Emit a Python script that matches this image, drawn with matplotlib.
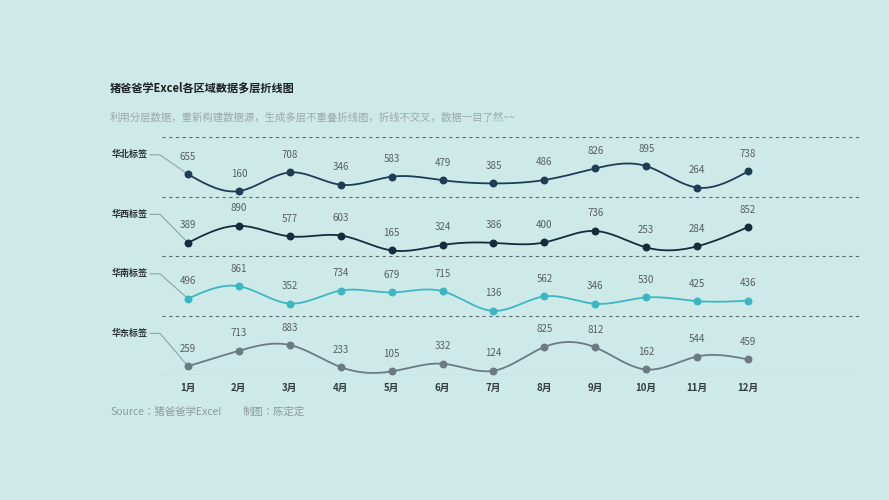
import numpy as np
import matplotlib.pyplot as plt

plt.rcParams['font.family'] = 'sans-serif'
plt.rcParams['font.sans-serif'] = ['Noto Sans CJK SC', 'Noto Sans CJK JP', 'DejaVu Sans']

months = ['1月', '2月', '3月', '4月', '5月', '6月', '7月', '8月', '9月', '10月', '11月', '12月']
regions = ['华北标签', '华西标签', '华南标签', '华东标签']
north = [655, 160, 708, 346, 583, 479, 385, 486, 826, 895, 264, 738]
west = [389, 890, 577, 603, 165, 324, 386, 400, 736, 253, 284, 852]
south = [496, 861, 352, 734, 679, 715, 136, 562, 346, 530, 425, 436]
east = [259, 713, 883, 233, 105, 332, 124, 825, 812, 162, 544, 459]
series = [north, west, south, east]
colors = ['#1d3d55', '#132d3d', '#3bb7c3', '#6a7b82']

bg = '#cdeae8'
scale = 0.000571
px = 1 / 50.9  # one pixel in month units


def spline(x, y, n=400):
    # natural cubic spline through the points
    x = np.asarray(x, float); y = np.asarray(y, float)
    k = len(x); h = np.diff(x)
    A = np.zeros((k, k)); b = np.zeros(k)
    A[0, 0] = A[-1, -1] = 1
    for i in range(1, k - 1):
        A[i, i - 1] = h[i - 1]; A[i, i] = 2 * (h[i - 1] + h[i]); A[i, i + 1] = h[i]
        b[i] = 3 * ((y[i + 1] - y[i]) / h[i] - (y[i] - y[i - 1]) / h[i - 1])
    c = np.linalg.solve(A, b)
    xs = np.linspace(x[0], x[-1], n)
    idx = np.clip(np.searchsorted(x, xs) - 1, 0, k - 2)
    dx = xs - x[idx]
    bb = (y[idx + 1] - y[idx]) / h[idx] - h[idx] * (2 * c[idx] + c[idx + 1]) / 3
    d = (c[idx + 1] - c[idx]) / (3 * h[idx])
    return xs, y[idx] + bb * dx + c[idx] * dx ** 2 + d * dx ** 3


fig = plt.figure(figsize=(8.89, 5), dpi=100, facecolor=bg)
ax = fig.add_axes([162 / 889, 1 - 375 / 500, (860 - 162) / 889, (375 - 137) / 500])
ax.set_facecolor(bg)
ax.set_xlim(1 - 26 * px, 12 + 112 * px)
ax.set_ylim(0, 4)
for s in ax.spines.values():
    s.set_visible(False)
ax.set_xticks([])
ax.set_yticks([])

x = np.arange(1, 13)
for yl in [1, 2, 3, 4]:
    ax.axhline(yl, color='#5a6e70', lw=0.8, ls=(0, (3, 3)))
ax.axhline(0, color='#b8d6d4', lw=1)

for i, (name, vals, col) in enumerate(zip(regions, series, colors)):
    base = 3 - i
    yv = base + np.array(vals) * scale
    xs, ys = spline(x, yv)
    ax.plot(xs, ys, color=col, lw=1.3, zorder=3)
    ax.scatter(x, yv, s=22, color=col, zorder=4)
    for xi, yi, v in zip(x, yv, vals):
        ax.annotate(str(v), (xi, yi), xytext=(0, 9), textcoords='offset points',
                    ha='center', va='bottom', fontsize=7, color='#555f60')
    ly = base + 0.7
    ax.plot([1 - 38 * px, 1 - 28 * px, 1], [ly, ly, yv[0]], color='#8a9a9c', lw=0.7,
            clip_on=False, zorder=2)
    ax.text(1 - 40 * px, ly, name, ha='right', va='center', fontsize=6.5,
            fontweight='bold', color='#2b3335')

for xi, m in zip(x, months):
    ax.text(xi, -0.22, m, ha='center', va='center', fontsize=7, fontweight='bold', color='#333c3e')

fig.text(110 / 889, 1 - 88 / 500, '猪爸爸学Excel各区域数据多层折线图', fontsize=8, fontweight='bold',
         color='#1a1f20', va='center')
fig.text(110 / 889, 1 - 117 / 500, '利用分层数据，重新构建数据源，生成多层不重叠折线图，折线不交叉，数据一目了然~~',
         fontsize=7.5, color='#9aa9aa', va='center')
fig.text(110 / 889, 1 - 412 / 500, 'Source：猪爸爸学Excel', fontsize=7.5, color='#8c9b9c', va='center')
fig.text(243 / 889, 1 - 412 / 500, '制图：陈定定', fontsize=7.5, color='#8c9b9c', va='center')

fig.savefig('out.png', dpi=100, facecolor=bg)
